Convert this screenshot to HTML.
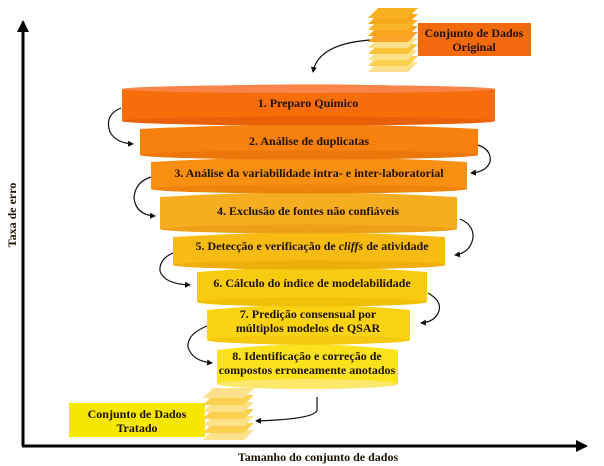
<!DOCTYPE html>
<html><head><meta charset="utf-8"><style>
html,body{margin:0;padding:0;background:#fff;}
svg{display:block;}
text{font-family:"Liberation Serif",serif;font-weight:bold;fill:#1e1200;}
</style></head><body>
<svg width="604" height="466" viewBox="0 0 604 466" xmlns="http://www.w3.org/2000/svg">
<defs>
<marker id="ah" markerWidth="6" markerHeight="6" refX="5" refY="3" orient="auto" markerUnits="userSpaceOnUse"><path d="M0,0 L6,3 L0,6 z" fill="#111"/></marker>
<marker id="big" markerWidth="12" markerHeight="12" refX="10" refY="6" orient="auto" markerUnits="userSpaceOnUse"><path d="M0,0 L12,6 L0,12 z" fill="#000"/></marker>
</defs>
<line x1="23" y1="446" x2="23" y2="22" stroke="#000" stroke-width="3" marker-end="url(#big)"/>
<line x1="22" y1="446" x2="586" y2="446" stroke="#000" stroke-width="3" marker-end="url(#big)"/>
<text x="318" y="461" font-size="12" text-anchor="middle">Tamanho do conjunto de dados</text>
<text transform="translate(16,215) rotate(-90)" font-size="12" text-anchor="middle">Taxa de erro</text>

<g>
<path d="M217,350 Q307,339 398,350 L398,384 Q307,394 217,384 Z" fill="#fae31c"/>
<ellipse cx="307.5" cy="384" rx="90.5" ry="5" fill="#fbe86a"/>
<path d="M207,310 Q308,300 410,310 L410,340 Q308,350 207,340 Z" fill="#fad412"/>
<ellipse cx="308.5" cy="340" rx="101.5" ry="4.5" fill="#f4c80c"/>
<path d="M197,272 Q312,263 427,272 L427,302 Q312,311 197,302 Z" fill="#f9cb10"/>
<ellipse cx="312" cy="302" rx="115" ry="4.5" fill="#efbf0a"/>
<path d="M173,237 Q309,228 445,237 L445,265 Q309,274 173,265 Z" fill="#f8bb12"/>
<ellipse cx="309" cy="265" rx="136" ry="4.5" fill="#eeae0c"/>
<path d="M160,197 Q308,188 457,197 L457,229 Q308,238 160,229 Z" fill="#f6ad20"/>
<ellipse cx="308.5" cy="229" rx="148.5" ry="4.5" fill="#eda018"/>
<path d="M151,162 Q309,153 467,162 L467,189 Q309,198 151,189 Z" fill="#f88f10"/>
<ellipse cx="309" cy="189" rx="158" ry="4.5" fill="#ee840c"/>
<path d="M140,129 Q309,120 478,129 L478,155 Q309,164 140,155 Z" fill="#f7800e"/>
<ellipse cx="309" cy="155" rx="169" ry="4.5" fill="#ec760a"/>
<path d="M122,89 Q308,80 495,89 L495,121 Q308,130 122,121 Z" fill="#f76d0c"/>
<ellipse cx="308.5" cy="89" rx="186.5" ry="4" fill="#f8844a"/>
<ellipse cx="308.5" cy="121" rx="186.5" ry="4.5" fill="#e86008"/>
</g>
<text x="308" y="107" font-size="12" text-anchor="middle">1. Preparo Químico</text>
<text x="309" y="145" font-size="12" text-anchor="middle">2. Análise de duplicatas</text>
<text x="309" y="177" font-size="12" text-anchor="middle">3. Análise da variabilidade intra- e inter-laboratorial</text>
<text x="308" y="215" font-size="12" text-anchor="middle">4. Exclusão de fontes não confiáveis</text>
<text x="312" y="250" font-size="12" text-anchor="middle">5. Detecção e verificação de <tspan font-style="italic">cliffs</tspan> de atividade</text>
<text x="312" y="287" font-size="12" text-anchor="middle">6. Cálculo do índice de modelabilidade</text>
<text x="308" y="318" font-size="12" text-anchor="middle">7. Predição consensual por</text>
<text x="308" y="332" font-size="12" text-anchor="middle">múltiplos modelos de QSAR</text>
<text x="307" y="360" font-size="12" text-anchor="middle">8. Identificação e correção de</text>
<text x="307" y="374" font-size="12" text-anchor="middle">compostos erroneamente anotados</text>

<g fill="none" stroke="#111" stroke-width="1.2" marker-end="url(#ah)">
<path d="M370,40 Q318,44 313,72"/>
<path d="M121,108 Q104,115 110,132 Q116,143 133,144"/>
<path d="M478,145 Q492,150 490,162 Q486,172 471,173"/>
<path d="M151,177 Q135,182 134,198 Q136,215 155,216"/>
<path d="M460,219 Q474,225 473,238 Q470,253 455,255"/>
<path d="M173,253 Q159,259 160,271 Q164,284 190,285"/>
<path d="M428,293 Q442,301 439,311 Q435,322 421,323"/>
<path d="M207,326 Q187,334 188,347 Q192,361 212,363"/>
<path d="M317,397 L317,410 Q316,419 256,421"/>
</g>

<rect x="418" y="23" width="113" height="33" fill="#f26a0e"/>
<polygon points="368,72 408,72 418,62 378,62" fill="#fde08a"/>
<polygon points="368,66 408,66 418,56 378,56" fill="#fccf50"/>
<polygon points="368,60 408,60 418,50 378,50" fill="#fde08a"/>
<polygon points="368,54 408,54 418,44 378,44" fill="#fbc53a"/>
<polygon points="368,48 408,48 418,38 378,38" fill="#fde08a"/>
<polygon points="368,42 408,42 418,32 378,32" fill="#f9a52a"/>
<polygon points="368,36 408,36 418,26 378,26" fill="#f8a51c"/>
<polygon points="368,30 408,30 418,20 378,20" fill="#f9b52a"/>
<polygon points="368,24 408,24 418,14 378,14" fill="#f8a81a"/>
<polygon points="368,18 408,18 418,8 378,8" fill="#f9b020"/>
<text x="474" y="37" font-size="12" text-anchor="middle">Conjunto de Dados</text>
<text x="474" y="51" font-size="12" text-anchor="middle">Original</text>

<rect x="69" y="403" width="136" height="34" fill="#f7e600"/>
<polygon points="203,440 244,440 254,430 213,430" fill="#fde08a"/>
<polygon points="203,433 244,433 254,423 213,423" fill="#fccf50"/>
<polygon points="203,426 244,426 254,416 213,416" fill="#fde08a"/>
<polygon points="203,419 244,419 254,409 213,409" fill="#fcd050"/>
<polygon points="203,412 244,412 254,402 213,402" fill="#fde08a"/>
<polygon points="203,405 244,405 254,395 213,395" fill="#fcd050"/>
<polygon points="203,398 244,398 254,388 213,388" fill="#fde08a"/>
<text x="137" y="418" font-size="12" text-anchor="middle">Conjunto de Dados</text>
<text x="137" y="432" font-size="12" text-anchor="middle">Tratado</text>
</svg>
</body></html>
